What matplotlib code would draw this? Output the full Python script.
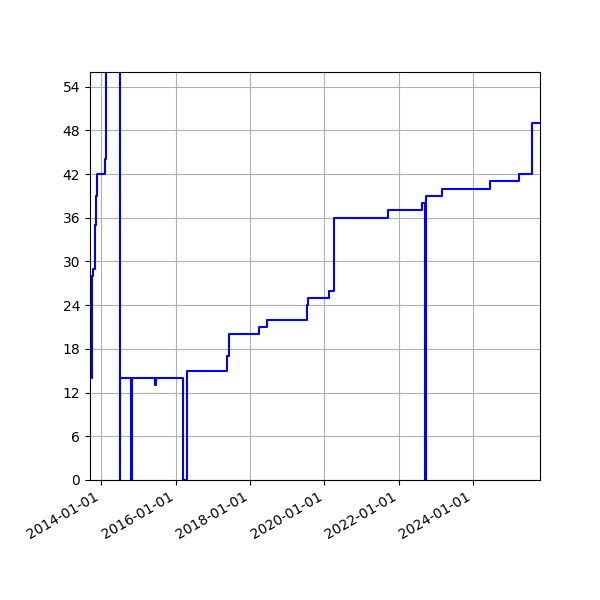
import numpy as np
import pandas as pd
import matplotlib
matplotlib.use('Agg')
import matplotlib.pyplot as plt
import matplotlib.dates as mdates

dates = ['2013-09-12', '2013-09-27', '2013-10-16', '2013-11-05', '2013-11-12',
         '2013-11-20', '2014-02-06', '2014-02-13', '2014-02-21', '2014-06-29',
         '2014-07-08', '2014-10-20', '2014-10-29', '2015-06-12', '2015-06-19',
         '2016-03-17', '2016-04-18', '2017-05-16', '2017-06-11', '2018-03-29',
         '2018-06-16', '2019-07-10', '2019-07-18', '2019-07-28', '2020-02-17',
         '2020-04-06', '2021-09-18', '2022-08-18', '2022-09-14', '2022-09-30',
         '2023-03-03', '2024-06-14', '2025-03-25', '2025-08-03', '2025-10-19']
values = [14, 28, 29, 35, 39,
          42, 44, 45, 60, 0,
          14, 0, 14, 13, 14,
          0, 15, 17, 20, 21,
          22, 23, 24, 25, 26,
          36, 37, 38, 0, 39,
          40, 41, 42, 49, 49]

x = pd.to_datetime(dates)

fig, ax = plt.subplots(figsize=(6, 6), dpi=100)
ax.step(x, values, where='post', color='blue')
ax.set_xlim(x[0], x[-1])
ax.set_ylim(0, 56)
ax.set_yticks(np.arange(0, 55, 6))
ax.xaxis.set_major_locator(mdates.YearLocator(2))
ax.xaxis.set_major_formatter(mdates.DateFormatter('%Y-%m-%d'))
ax.grid(True)
fig.autofmt_xdate()
fig.subplots_adjust(left=0.15, right=0.9, top=0.88, bottom=0.2)
fig.savefig('out.png')
